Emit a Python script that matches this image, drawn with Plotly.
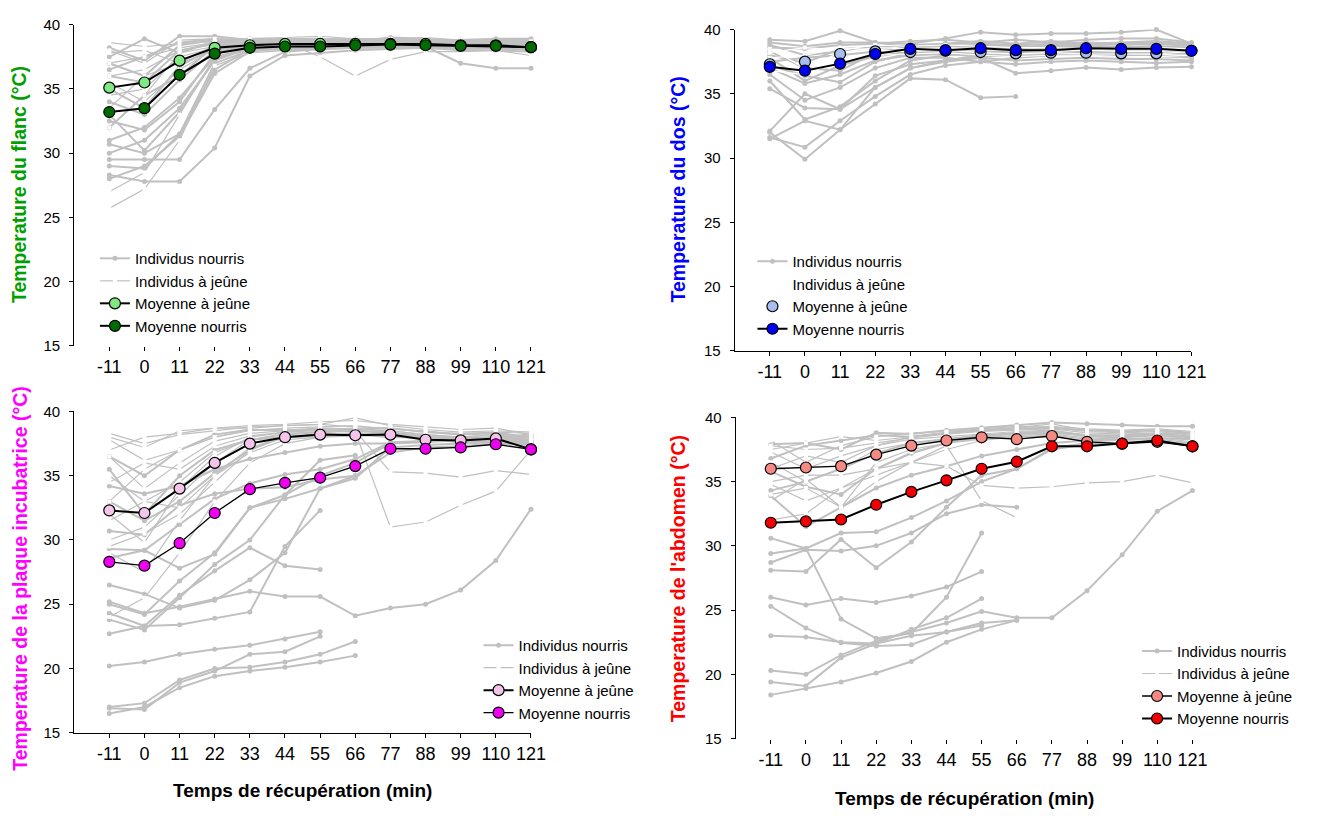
import plotly.graph_objects as go

W, H = 1335, 821
FONT = "Liberation Sans, Arial, sans-serif"
GRAY = "#C0C0C0"

times = ["-11", "0", "11", "22", "33", "44", "55", "66", "77", "88", "99", "110", "121"]
N = None

# ---------------- Panel 1 : flanc ----------------
flanc_fed_ind = [
    [28.3, 27.8, 27.8, 30.4, 36.0, 37.6, 37.8, 38.0, 38.1, 38.2, 38.0, 38.0, 37.9],
    [29.5, 29.5, 29.5, 33.4, 36.6, 37.9, 38.1, 38.2, 38.3, 38.2, 38.1, 38.2, 38.1],
    [30.7, 30.0, 31.5, 36.5, 38.1, 38.3, 38.4, 38.5, 38.5, 38.6, 38.4, 38.4, 38.3],
    [32.5, 31.8, 34.0, 37.8, 38.4, 38.6, 38.6, 38.7, 38.8, 38.7, 38.6, 38.6, 38.5],
    [34.0, 33.0, 35.7, 38.0, 38.5, 38.7, 38.8, 38.7, 38.6, 38.6, 38.5, 38.4, 38.4],
    [28.0, 29.0, 31.3, 36.2, 37.9, 38.2, 38.3, 38.4, 38.3, 38.3, 38.2, 38.3, 38.2],
    [37.5, 38.9, 37.8, 38.7, 38.6, 38.8, 38.9, 38.8, 38.9, 38.8, 38.8, 38.9, 38.9],
    [36.0, 35.5, 38.0, 38.5, 38.4, 38.5, 38.6, 38.5, 38.4, 38.3, 37.0, 36.6, 36.6],
    [35.0, 33.5, 36.8, 38.2, 38.2, 38.0, 38.1, 38.2, 38.2, 38.4, 38.3, 38.2, 38.0],
    [31.0, 32.0, 34.3, 37.5, 38.0, 38.3, 38.5, 38.6, 38.5, 38.6, 38.5, 38.5, 38.4],
    [38.2, 37.2, 39.1, 39.1, 38.8, 38.9, 38.9, 38.7, 39.0, 38.9, 38.7, 38.8, 38.7],
    [29.0, 28.8, 31.5, 37.0, 38.0, 38.1, 38.2, 38.3, 38.3, 38.4, 38.3, 38.3, 38.2],
    [33.0, 30.2, 33.2, 37.3, 38.2, 38.4, 38.5, 38.6, 38.6, 38.5, 38.4, 38.4, 38.3],
    [36.5, 37.5, 38.6, 38.9, 38.7, 38.6, 38.5, 38.6, 38.7, 38.6, 38.6, 38.7, 38.6],
    [37.0, 36.0, 38.4, 38.8, 38.9, 38.9, 38.8, 38.9, 38.8, 38.8, 38.7, 38.8, 38.8],
    [30.0, 31.0, 33.5, 37.2, 38.2, 38.2, 38.3, 38.2, 38.4, 38.5, 38.3, 38.4, 38.3],
    [32.0, 34.5, 36.0, 38.4, 38.3, 38.7, 38.5, 38.8, 38.5, 38.3, 38.5, 38.3, 38.5],
]
flanc_fast_ind = [
    [25.7, 27.2, 31.0, 36.8, 37.8, 38.0, 38.2, 38.3, 38.3, 38.3, 38.2, 38.2, 38.2],
    [27.0, 28.5, 33.0, 37.5, 38.2, 38.3, 38.4, 38.5, 38.4, 38.4, 38.3, 38.3, 38.2],
    [38.6, 38.3, 38.5, 38.7, 38.9, 39.0, 39.1, 38.9, 38.9, 39.0, 38.8, 38.7, 38.7],
    [37.0, 37.5, 38.2, 38.6, 38.6, 38.7, 38.7, 38.6, 38.7, 38.6, 38.5, 38.5, 38.4],
    [36.0, 36.5, 38.0, 38.5, 38.5, 38.6, 37.5, 36.0, 37.3, 37.9, 37.9, 38.0, 37.6],
    [34.5, 35.0, 37.5, 38.2, 38.4, 38.5, 38.4, 38.5, 38.6, 38.5, 38.4, 38.4, 38.3],
    [33.5, 36.0, 37.0, 38.0, 38.3, 38.4, 38.5, 38.5, 38.5, 38.4, 38.3, 38.4, 38.3],
    [35.5, 34.0, 36.5, 38.1, 38.4, 38.6, 38.6, 38.7, 38.7, 38.6, 38.5, 38.6, 38.5],
    [38.0, 37.0, 38.8, 38.9, 38.7, 38.8, 38.8, 38.9, 38.8, 38.7, 38.6, 38.6, 38.6],
    [32.0, 34.5, 37.8, 38.3, 38.5, 38.5, 38.6, 38.6, 38.5, 38.5, 38.5, 38.5, 38.4],
    [37.8, 38.0, 37.0, 38.4, 38.3, 38.2, 38.3, 38.2, 38.3, 38.3, 38.2, 38.1, 38.1],
]
flanc_fast_mean = [35.1, 35.5, 37.2, 38.2, 38.4, 38.5, 38.5, 38.5, 38.5, 38.5, 38.4, 38.4, 38.25]
flanc_fed_mean = [33.2, 33.5, 36.1, 37.75, 38.2, 38.3, 38.3, 38.4, 38.45, 38.4, 38.35, 38.35, 38.25]

# ---------------- Panel 2 : dos ----------------
dos_fed_ind = [
    [39.2, 39.1, 39.9, 39.0, 38.9, 39.3, 39.8, 39.6, 39.7, 39.7, 39.8, 40.0, 38.9],
    [35.4, 33.9, 33.8, 35.5, 37.0, 37.5, 37.8, 37.6, 37.7, 37.8, 37.7, 37.7, 37.6],
    [32.1, 35.0, 33.8, 36.4, 37.3, 37.6, 37.8, 36.6, 36.8, 37.05, 36.9, 37.05, 37.1],
    [31.5, 32.9, 32.2, 34.2, 36.2, 36.1, 34.7, 34.8, N, N, N, N, N],
    [31.6, 30.85, 32.9, 34.8, 36.5, 37.2, 37.5, 37.8, 38.0, 38.1, 38.0, 37.9, 37.9],
    [32.0, 29.9, 32.2, 35.5, 37.0, 37.6, 38.0, 38.2, 38.3, 38.2, 38.1, 38.2, 38.1],
    [37.2, 36.4, 35.9, 37.5, 38.2, 38.3, 38.5, 38.4, 38.5, 38.6, 38.5, 38.6, 38.4],
    [38.0, 37.4, 38.5, 38.6, 38.8, 38.9, 38.9, 38.8, 38.9, 39.0, 38.9, 39.0, 38.8],
    [36.0, 33.0, 34.0, 36.0, 37.6, 38.0, 38.2, 38.3, 38.4, 38.4, 38.3, 38.3, 38.2],
    [38.6, 38.5, 38.8, 38.9, 39.1, 39.2, 39.0, 39.2, 39.0, 39.2, 39.3, 39.3, 39.0],
    [37.5, 37.8, 38.0, 38.3, 38.5, 38.6, 38.7, 38.7, 38.6, 38.7, 38.6, 38.7, 38.5],
    [38.8, 38.0, 38.3, 38.6, 38.4, 38.8, 38.6, 38.5, 38.8, 38.9, 38.8, 38.9, 38.7],
    [37.8, 36.0, 37.2, 37.9, 38.3, 38.2, 38.3, 38.2, 38.1, 38.3, 38.2, 38.2, 38.2],
    [38.3, 37.0, 36.8, 38.2, 38.7, 38.6, 38.8, 38.7, 38.7, 38.8, 38.6, 38.7, 38.6],
    [39.0, 38.7, 39.0, 39.0, 38.6, 38.9, 39.1, 38.9, 39.1, 38.9, 39.0, 39.1, 38.9],
    [37.0, 35.8, 36.5, 37.6, 38.0, 38.1, 37.9, 38.0, 38.0, 38.1, 37.9, 38.0, 37.8],
    [36.5, 34.5, 35.5, 37.0, 37.8, 37.8, 37.5, 37.3, 37.5, 37.6, 37.5, 37.4, 37.5],
]
dos_fast_ind = [
    [37.8, 38.0, 38.6, 38.4, 38.3, 38.4, 38.2, 38.1, 38.2, 38.1, 38.1, 38.1, 38.3],
    [38.5, 37.0, 38.2, 38.6, 38.5, 38.6, 38.5, 38.4, 38.3, 38.4, 38.3, 38.3, 38.4],
    [36.8, 36.5, 37.6, 38.0, 38.1, 38.2, 38.0, 37.9, 38.0, 38.0, 37.9, 37.9, 38.0],
    [38.2, 38.6, 38.4, 38.8, 38.7, 38.8, 38.7, 38.6, 38.6, 38.5, 38.5, 38.6, 38.5],
]
dos_fast_mean = [37.3, 37.5, 38.1, 38.3, 38.25, 38.35, 38.25, 38.15, 38.2, 38.2, 38.15, 38.15, 38.35]
dos_fed_mean = [37.1, 36.8, 37.35, 38.1, 38.5, 38.4, 38.55, 38.4, 38.4, 38.55, 38.5, 38.5, 38.35]

# ---------------- Panel 3 : plaque incubatrice ----------------
plaque_fed_ind = [
    [20.2, 20.5, 21.1, 21.5, 21.8, 22.3, 22.85, N, N, N, N, N, N],
    [17.0, 17.3, 19.1, 20.0, 20.1, 20.5, 21.1, 22.1, N, N, N, N, N],
    [16.5, 17.0, 18.5, 19.4, 19.8, 20.1, 20.5, 21.0, N, N, N, N, N],
    [16.9, 16.8, 18.9, 19.8, 21.1, 21.3, 22.5, N, N, N, N, N, N],
    [25.2, 24.3, 24.8, 25.4, 26.0, 25.6, 25.6, 24.1, 24.7, 25.0, 26.1, 28.4, 32.4],
    [22.7, 23.3, 25.7, 27.6, 29.4, 28.0, 27.7, N, N, N, N, N, N],
    [24.3, 23.3, 23.4, 23.9, 24.4, 29.5, 32.3, N, N, N, N, N, N],
    [26.5, 25.8, 24.7, 25.3, 26.9, 29.0, 34.0, 35.0, 36.8, 37.2, 37.3, 37.5, 37.4],
    [28.6, 29.2, 31.2, 33.2, 34.4, 35.1, 35.5, 36.3, 37.6, 37.7, 37.8, 37.8, 37.6],
    [30.7, 30.4, 32.7, 33.6, 34.0, 34.1, 34.7, 35.0, N, N, N, N, N],
    [34.2, 33.6, 34.2, 35.5, 36.3, 36.8, 37.3, 37.5, 37.5, 37.7, 37.7, 37.7, 37.7],
    [29.3, 29.2, 27.8, 28.9, 32.5, 33.2, 34.0, 34.8, 37.2, 37.4, 37.5, 37.6, 37.5],
    [35.5, 32.0, 35.0, 37.0, 37.8, 38.0, 38.1, 38.2, 38.0, 38.0, 37.9, 38.0, 38.2],
    [25.0, 24.2, 26.8, 29.0, 32.5, 33.5, 35.0, 36.0, 37.5, 37.6, 37.8, 37.9, 38.0],
    [23.8, 23.0, 25.5, 28.1, 30.0, 33.5, 36.2, 36.6, N, N, N, N, N],
    [36.5, 35.0, 37.0, 38.2, 38.6, 38.5, 38.7, 38.6, 38.7, 38.4, 38.2, 38.3, 38.0],
    [33.0, 31.5, 33.0, 35.2, 37.0, 38.2, 38.4, 38.5, 38.3, 38.0, 37.8, 37.9, 37.7],
]
plaque_fast_ind = [
    [38.3, 37.5, 38.2, 38.5, 38.8, 38.9, 39.0, 39.5, 38.9, 38.6, 38.4, 38.5, 38.4],
    [37.8, 36.2, 37.0, 38.0, 38.5, 38.7, 38.8, 38.9, 38.6, 38.5, 38.2, 38.4, 38.3],
    [36.5, 34.0, 36.0, 37.7, 38.3, 38.5, 38.6, 38.4, 31.0, 31.4, 32.7, 33.8, 37.0],
    [35.0, 33.0, 34.5, 36.8, 37.8, 38.2, 38.4, 38.5, 35.3, 35.2, 34.9, 35.4, 35.1],
    [33.0, 35.5, 37.0, 38.0, 38.6, 38.6, 38.5, 38.6, 38.5, 38.2, 38.0, 38.2, 37.9],
    [30.0, 31.0, 33.5, 36.0, 37.8, 38.3, 38.4, 38.5, 38.4, 38.0, 37.9, 38.0, 37.8],
    [29.5, 30.5, 32.0, 34.5, 37.0, 38.0, 38.3, 38.2, 38.3, 37.9, 37.8, 37.9, 37.6],
    [37.0, 38.0, 38.3, 38.7, 38.7, 38.9, 39.0, 38.8, 38.7, 38.4, 38.3, 38.4, 38.0],
    [32.0, 29.8, 34.0, 36.5, 38.0, 38.4, 38.5, 38.4, 38.5, 38.2, 38.0, 38.0, 37.8],
    [31.5, 33.0, 32.5, 35.0, 36.8, 37.8, 38.0, 38.1, 38.2, 37.8, 37.6, 37.8, 37.5],
    [34.5, 36.0, 35.5, 37.3, 38.1, 38.4, 38.6, 38.7, 38.4, 38.1, 38.0, 38.2, 37.8],
    [24.0, 25.5, 29.0, 33.0, 36.0, 37.5, 38.0, 38.2, 38.1, 37.8, 37.7, 37.8, 37.6],
    [29.0, 27.5, 31.5, 35.0, 37.2, 38.0, 38.2, 38.3, 38.2, 37.9, 37.8, 37.9, 37.7],
    [38.0, 37.2, 38.5, 38.7, 38.9, 39.0, 39.2, 39.3, 39.0, 38.8, 38.6, 38.7, 38.2],
]
plaque_fast_mean = [32.3, 32.1, 34.0, 36.0, 37.5, 38.0, 38.2, 38.15, 38.2, 37.8, 37.75, 37.9, 37.05]
plaque_fed_mean = [28.3, 28.0, 29.75, 32.1, 33.95, 34.45, 34.85, 35.75, 37.1, 37.1, 37.2, 37.45, 37.05]

# ---------------- Panel 4 : abdomen ----------------
abdo_fed_ind = [
    [20.3, 20.0, 21.5, 22.6, 23.3, 24.0, 24.9, 24.4, 24.4, 26.5, 29.3, 32.7, 34.3],
    [18.4, 18.9, 19.4, 20.1, 21.0, 22.5, 23.5, 24.2, N, N, N, N, N],
    [19.4, 19.1, 21.3, 22.4, 23.0, 23.3, 24.0, 24.2, N, N, N, N, N],
    [23.0, 22.9, 22.5, 22.4, 23.5, 24.4, 25.9, N, N, N, N, N, N],
    [25.3, 23.6, 22.45, 22.2, 22.3, 23.3, 23.8, N, N, N, N, N, N],
    [26.0, 25.4, 25.9, 25.6, 26.1, 26.8, 28.0, N, N, N, N, N, N],
    [29.4, 29.8, 24.3, 22.8, 23.2, 26.0, 31.0, N, N, N, N, N, N],
    [28.1, 28.0, 30.5, 28.3, 30.3, 33.0, 35.5, 36.0, 37.5, 37.9, 38.0, 38.1, 37.9],
    [28.7, 29.7, 29.6, 30.0, 31.0, 32.5, 33.2, 33.0, N, N, N, N, N],
    [30.6, 29.8, 31.0, 31.1, 32.2, 33.5, 35.0, 36.0, 37.6, 38.0, 38.0, 38.1, 37.9],
    [33.9, 31.5, 33.0, 34.5, 35.5, 36.2, 37.0, 37.5, 38.0, 38.2, 38.3, 38.4, 38.3],
    [37.9, 38.0, 37.5, 38.8, 38.7, 39.0, 39.2, 39.4, 39.6, 39.5, 39.4, 39.3, 39.3],
    [34.3, 35.0, 36.0, 37.2, 38.0, 38.3, 38.6, 38.7, 38.8, 38.6, 38.5, 38.7, 38.8],
    [36.8, 37.8, 38.2, 38.6, 38.5, 38.8, 39.0, 39.1, 39.2, 39.0, 38.9, 39.0, 38.8],
    [35.8, 34.6, 34.0, 36.0, 37.2, 38.0, 38.5, 38.8, 38.9, 38.6, 38.6, 38.7, 38.5],
]
abdo_fast_ind = [
    [37.8, 37.5, 37.6, 38.0, 38.4, 38.7, 38.9, 39.0, 39.1, 38.8, 38.7, 38.8, 38.5],
    [36.5, 35.0, 36.0, 37.5, 38.0, 38.3, 38.6, 38.8, 38.9, 38.5, 38.4, 38.6, 38.3],
    [35.0, 35.5, 35.5, 36.0, 36.5, 36.2, 34.7, 34.5, 34.6, 34.9, 35.0, 35.5, 34.9],
    [34.0, 34.5, 33.0, 35.0, 36.5, 37.5, 38.2, 38.5, 38.6, 38.3, 38.2, 38.3, 38.0],
    [37.5, 38.0, 38.5, 38.2, 38.5, 38.8, 39.0, 39.2, 39.5, 39.0, 38.9, 39.0, 38.7],
    [33.5, 35.2, 33.0, 36.5, 37.5, 38.0, 38.3, 38.5, 38.5, 38.2, 38.0, 38.2, 37.9],
    [38.2, 36.5, 37.8, 38.5, 38.8, 38.9, 39.1, 39.3, 39.2, 38.9, 38.8, 38.9, 38.6],
    [34.8, 33.5, 34.5, 36.0, 37.3, 38.0, 38.4, 38.6, 38.7, 38.4, 38.3, 38.4, 38.1],
    [36.0, 37.0, 36.5, 37.8, 38.3, 38.5, 38.7, 38.9, 39.0, 38.6, 38.5, 38.6, 38.4],
    [32.0, 32.5, 34.5, 35.5, 36.5, 37.8, 33.5, 32.2, N, N, N, N, N],
    [37.3, 36.0, 37.0, 37.8, 38.5, 38.8, 39.0, 39.2, 39.3, 39.1, 39.0, 39.1, 38.9],
]
abdo_fast_mean = [36.0, 36.1, 36.2, 37.1, 37.8, 38.2, 38.45, 38.3, 38.55, 38.1, 37.95, 38.1, 37.75]
abdo_fed_mean = [31.8, 31.9, 32.05, 33.2, 34.2, 35.1, 36.0, 36.55, 37.75, 37.75, 37.95, 38.2, 37.75]

legend_labels = ["Individus nourris", "Individus à jeûne", "Moyenne à jeûne", "Moyenne nourris"]

panels = [
    dict(fed=flanc_fed_ind, fast=flanc_fast_ind, fast_mean=flanc_fast_mean, fed_mean=flanc_fed_mean,
         c_fast="#80E880", c_fed="#006B00", fast_line=True, fast_ind_color=GRAY,
         w_fast=2, w_fed=2),
    dict(fed=dos_fed_ind, fast=dos_fast_ind, fast_mean=dos_fast_mean, fed_mean=dos_fed_mean,
         c_fast="#A8BEEC", c_fed="#0000F0", fast_line=False, fast_ind_color="#FFFFFF",
         w_fast=2, w_fed=2),
    dict(fed=plaque_fed_ind, fast=plaque_fast_ind, fast_mean=plaque_fast_mean, fed_mean=plaque_fed_mean,
         c_fast="#F4C4EA", c_fed="#F000F0", fast_line=True, fast_ind_color=GRAY,
         w_fast=2, w_fed=1.3),
    dict(fed=abdo_fed_ind, fast=abdo_fast_ind, fast_mean=abdo_fast_mean, fed_mean=abdo_fed_mean,
         c_fast="#F58A84", c_fed="#F00000", fast_line=True, fast_ind_color=GRAY,
         w_fast=1.3, w_fed=2),
]

xpos = list(range(len(times)))
fig = go.Figure()

for i, p in enumerate(panels):
    k = "" if i == 0 else str(i + 1)
    xa, ya, lg = "x" + k, "y" + k, "legend" + k
    for j, vals in enumerate(p["fed"]):
        fig.add_trace(go.Scatter(
            x=xpos, y=vals, xaxis=xa, yaxis=ya, legend=lg, mode="lines+markers",
            name=legend_labels[0], showlegend=(j == 0), legendgroup="a" + k,
            line=dict(color=GRAY, width=2), marker=dict(color=GRAY, size=5, symbol="circle"),
            cliponaxis=False, connectgaps=False, hoverinfo="skip"))
    for j, vals in enumerate(p["fast"]):
        fig.add_trace(go.Scatter(
            x=xpos, y=vals, xaxis=xa, yaxis=ya, legend=lg, mode="lines+markers",
            name=legend_labels[1], showlegend=(j == 0), legendgroup="b" + k,
            line=dict(color=p["fast_ind_color"], width=1.2),
            marker=dict(color="#FFFFFF", size=4, symbol="square", line=dict(width=0)),
            cliponaxis=False, hoverinfo="skip"))
    fig.add_trace(go.Scatter(
        x=xpos, y=p["fast_mean"], xaxis=xa, yaxis=ya, legend=lg,
        mode="lines+markers" if p["fast_line"] else "markers",
        name=legend_labels[2], line=dict(color="black", width=p["w_fast"]),
        marker=dict(color=p["c_fast"], size=11, line=dict(color="black", width=1.2)),
        cliponaxis=False, hoverinfo="skip"))
    fig.add_trace(go.Scatter(
        x=xpos, y=p["fed_mean"], xaxis=xa, yaxis=ya, legend=lg, mode="lines+markers",
        name=legend_labels[3], line=dict(color="black", width=p["w_fed"]),
        marker=dict(color=p["c_fed"], size=11, line=dict(color="black", width=1.2)),
        cliponaxis=False, hoverinfo="skip"))

def px_dom_x(a, b):
    return [a / W, b / W]

def px_dom_y(top, bottom):
    return [1 - bottom / H, 1 - top / H]

dom = [
    (px_dom_x(75, 537), px_dom_y(16, 344), False),
    (px_dom_x(743, 1205), px_dom_y(21, 349), True),
    (px_dom_x(75, 537), px_dom_y(411, 739), True),
    (px_dom_x(744, 1206), px_dom_y(417, 745), False),
]

xtickfont = dict(family=FONT, size=18, color="black")
ytickfont = dict(family=FONT, size=15, color="black")
layout = dict(
    width=W, height=H, margin=dict(l=0, r=0, t=0, b=0),
    paper_bgcolor="white", plot_bgcolor="white",
    font=dict(family=FONT, color="black"),
)
for i, (dx, dy, xline) in enumerate(dom):
    k = "" if i == 0 else str(i + 1)
    layout["xaxis" + k] = dict(
        domain=dx, anchor="y" + k, range=[-1, 12], tickmode="array", tickvals=xpos, ticktext=times,
        ticks="outside", ticklen=4, tickcolor="black", showgrid=False, zeroline=False,
        showline=xline, linecolor="black", linewidth=1, tickfont=xtickfont, ticklabelstandoff=1,
        fixedrange=True)
    layout["yaxis" + k] = dict(
        domain=dy, anchor="x" + k, range=[15, 40], tickmode="linear", tick0=15, dtick=5,
        ticks="outside", ticklen=4, tickcolor="black", showgrid=False, zeroline=False,
        showline=True, linecolor="black", linewidth=1, tickfont=ytickfont, ticklabelstandoff=6,
        fixedrange=True)

leg_pos = [(96, 238), (761, 241), (484, 633), (1150, 639)]
for i, (lx, ly) in enumerate(leg_pos):
    k = "" if i == 0 else str(i + 1)
    layout["legend" + k] = dict(
        x=lx / W, y=1 - ly / H, xanchor="left", yanchor="top", bgcolor="rgba(0,0,0,0)",
        font=dict(family=FONT, size=15, color="black"), tracegroupgap=0, itemwidth=30,
        traceorder="normal")

fig.update_layout(**layout)

ytitles = [
    ("Temperature du flanc (°C)", "#00A000", 20, 179),
    ("Temperature du dos (°C)", "#0000FF", 686, 184),
    ("Temperature de la plaque incubatrice (°C)", "#FF00FF", 20, 581),
    ("Temperature de l'abdomen (°C)", "#FF0000", 686, 582),
]
for txt, col, x, y in ytitles:
    fig.add_annotation(text="<b>" + txt + "</b>", x=x / W, y=1 - y / H, xref="paper", yref="paper",
                       textangle=-90, showarrow=False, xanchor="center", yanchor="middle",
                       font=dict(family=FONT, size=19.5, color=col))
for x, y in [(306, 798), (975, 806)]:
    fig.add_annotation(text="<b>Temps de récupération (min)</b>", x=x / W, y=1 - y / H,
                       xref="paper", yref="paper", showarrow=False, xanchor="center", yanchor="middle",
                       font=dict(family=FONT, size=19, color="black"))

fig.write_html("out.html", config={"displayModeBar": False},
               post_script="document.body.style.margin='0';document.body.style.overflow='hidden';")
